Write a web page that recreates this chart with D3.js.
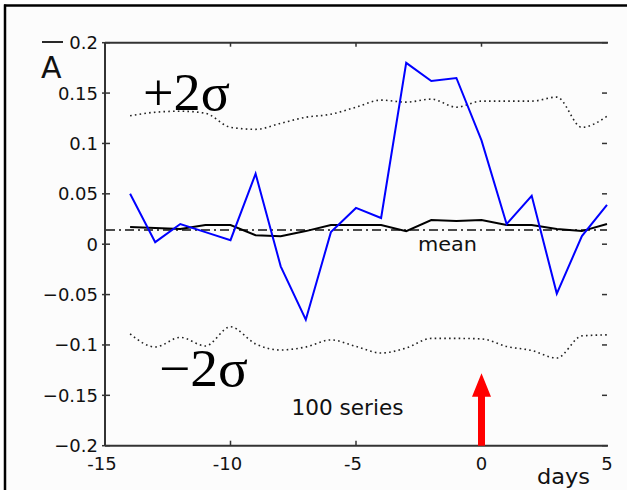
<!DOCTYPE html>
<html>
<head>
<meta charset="utf-8">
<script src="https://cdn.jsdelivr.net/npm/d3@7"></script>
<style>
  body { margin: 0; background: #fff; }
  svg { display: block; }
  .tick-label { font-family: 'DejaVu Sans', sans-serif; font-size: 18px; fill: #111; }
</style>
</head>
<body>
<div id="chart"></div>
<script>
var days = [-14, -13, -12, -11, -10, -9, -8, -7, -6, -5, -4, -3, -2, -1, 0, 1, 2, 3, 4, 5]
var seriesA = [0.05, 0.002, 0.02, 0.012, 0.004, 0.07, -0.022, -0.075, 0.012, 0.036,
  0.026, 0.18, 0.162, 0.165, 0.103, 0.02, 0.048, -0.049, 0.008, 0.039]
var meanSeries = [0.017, 0.016, 0.015, 0.019, 0.019, 0.009, 0.008, 0.013, 0.019, 0.019,
  0.019, 0.013, 0.024, 0.023, 0.024, 0.019, 0.019, 0.015, 0.013, 0.02]
var upperBand = [0.1275, 0.131, 0.132, 0.13, 0.116, 0.114, 0.12, 0.126, 0.129, 0.136,
  0.143, 0.141, 0.144, 0.136, 0.142, 0.142, 0.142, 0.146, 0.116, 0.127]
var lowerBand = [-0.089, -0.102, -0.0925, -0.101, -0.082, -0.099, -0.105, -0.102, -0.095, -0.1015,
  -0.108, -0.103, -0.0935, -0.0935, -0.094, -0.1015, -0.1055, -0.113, -0.091, -0.09]
var overallMean = 0.014
var xTicks = [-15, -10, -5, 0, 5]
var yTicks = [-0.2, -0.15, -0.1, -0.05, 0, 0.05, 0.1, 0.15, 0.2]
var arrowDay = 0
var arrowTip = -0.128

document.addEventListener('DOMContentLoaded', function () {
  var W = 627
  var H = 490
  var margin = { top: 42.7, right: 20, bottom: 44.3, left: 105 }
  var width = W - margin.left - margin.right
  var height = H - margin.top - margin.bottom

  var svg = d3.select('#chart').append('svg')
    .attr('width', W)
    .attr('height', H)

  // frame of the figure
  svg.append('rect').attr('x', 6).attr('y', 7).attr('width', W - 6).attr('height', H - 7)
    .attr('fill', '#fcfcfc')
  svg.append('line').attr('x1', 4).attr('x2', W).attr('y1', 5.5).attr('y2', 5.5)
    .attr('stroke', '#000').attr('stroke-width', 2.5)
  svg.append('line').attr('x1', 5).attr('x2', 5).attr('y1', 4.5).attr('y2', H)
    .attr('stroke', '#000').attr('stroke-width', 2.5)

  var g = svg.append('g')
    .attr('transform', 'translate(' + margin.left + ',' + margin.top + ')')

  var x = d3.scaleLinear().domain([-15, 5]).range([0, width])
  var y = d3.scaleLinear().domain([-0.2, 0.2]).range([height, 0])

  var axisColor = '#333'

  // axes lines: left, bottom, top
  g.append('line').attr('x1', 0).attr('x2', 0).attr('y1', 0).attr('y2', height)
    .attr('stroke', axisColor).attr('stroke-width', 2)
  g.append('line').attr('x1', 0).attr('x2', width + 1).attr('y1', height).attr('y2', height)
    .attr('stroke', axisColor).attr('stroke-width', 2)
  g.append('line').attr('x1', 0).attr('x2', width + 1).attr('y1', 0).attr('y2', 0)
    .attr('stroke', axisColor).attr('stroke-width', 2)

  // ticks
  yTicks.forEach(function (t) {
    g.append('line').attr('x1', -3).attr('x2', 5).attr('y1', y(t)).attr('y2', y(t))
      .attr('stroke', axisColor).attr('stroke-width', 1.5)
    g.append('line').attr('x1', width - 5).attr('x2', width).attr('y1', y(t)).attr('y2', y(t))
      .attr('stroke', axisColor).attr('stroke-width', 1.5)
    g.append('text').attr('class', 'tick-label')
      .attr('x', -7).attr('y', y(t)).attr('dy', '0.36em')
      .attr('text-anchor', 'end')
      .text(d3.format('')(t).replace('0.2', '0.2'))
  })
  xTicks.forEach(function (t) {
    if (t > -15 && t < 5) {
      g.append('line').attr('x1', x(t)).attr('x2', x(t)).attr('y1', 0).attr('y2', 4)
        .attr('stroke', axisColor).attr('stroke-width', 1.5)
      g.append('line').attr('x1', x(t)).attr('x2', x(t)).attr('y1', height).attr('y2', height - 5)
        .attr('stroke', axisColor).attr('stroke-width', 1.5)
    }
    g.append('text').attr('class', 'tick-label')
      .attr('x', x(t) - (t < 0 ? 3 : 0)).attr('y', height + 24)
      .attr('text-anchor', 'middle')
      .text(t)
  })

  // bands
  var bandLine = d3.line()
    .x(function (d, i) { return x(days[i]) })
    .y(function (d) { return y(d) })
    .curve(d3.curveMonotoneX)

  g.append('path').datum(upperBand).attr('d', bandLine)
    .attr('fill', 'none').attr('stroke', '#222').attr('stroke-width', 1.6)
    .attr('stroke-dasharray', '1.6,3.2')
  g.append('path').datum(lowerBand).attr('d', bandLine)
    .attr('fill', 'none').attr('stroke', '#222').attr('stroke-width', 1.6)
    .attr('stroke-dasharray', '1.6,3.2')

  // overall mean (dash-dot)
  g.append('line').attr('x1', 1).attr('x2', width).attr('y1', y(overallMean)).attr('y2', y(overallMean))
    .attr('stroke', '#111').attr('stroke-width', 1.5)
    .attr('stroke-dasharray', '9,4,2,4')

  var line = d3.line()
    .x(function (d, i) { return x(days[i]) })
    .y(function (d) { return y(d) })

  // mean of series
  g.append('path').datum(meanSeries).attr('d', line)
    .attr('fill', 'none').attr('stroke', '#000').attr('stroke-width', 2)

  // single series
  g.append('path').datum(seriesA).attr('d', line)
    .attr('fill', 'none').attr('stroke', '#0000ff').attr('stroke-width', 2)

  // red arrow
  var ax = x(arrowDay)
  var tipY = y(arrowTip)
  var headBase = tipY + 23.5
  var arrowPts = [
    [ax - 3.5, height], [ax - 3.5, headBase], [ax - 9.5, headBase], [ax, tipY],
    [ax + 9.5, headBase], [ax + 3.5, headBase], [ax + 3.5, height]
  ]
  g.append('path').attr('d', d3.line()(arrowPts) + 'Z').attr('fill', '#ff0000')

  // annotations
  svg.append('text').attr('x', 143).attr('y', 110)
    .attr('font-family', 'Liberation Serif, serif').attr('font-size', 52)
    .attr('textLength', 87).attr('lengthAdjust', 'spacingAndGlyphs')
    .text('+2σ')
  svg.append('text').attr('x', 159).attr('y', 386)
    .attr('font-family', 'Liberation Serif, serif').attr('font-size', 52)
    .attr('textLength', 89).attr('lengthAdjust', 'spacingAndGlyphs')
    .text('\u22122σ')
  svg.append('text').attr('x', 418).attr('y', 250.5)
    .attr('font-family', 'DejaVu Sans, sans-serif').attr('font-size', 20).attr('fill', '#111')
    .attr('textLength', 59).attr('lengthAdjust', 'spacingAndGlyphs')
    .text('mean')
  svg.append('text').attr('x', 291.5).attr('y', 414.5)
    .attr('font-family', 'DejaVu Sans, sans-serif').attr('font-size', 22).attr('fill', '#111')
    .attr('textLength', 112).attr('lengthAdjust', 'spacingAndGlyphs')
    .text('100 series')
  svg.append('text').attr('x', 537).attr('y', 483.5)
    .attr('font-family', 'DejaVu Sans, sans-serif').attr('font-size', 21).attr('fill', '#111')
    .attr('textLength', 53).attr('lengthAdjust', 'spacingAndGlyphs')
    .text('days')

  // A with overbar
  svg.append('text').attr('x', 41).attr('y', 77.5)
    .attr('font-family', 'DejaVu Sans, sans-serif').attr('font-size', 30).attr('fill', '#111')
    .text('A')
  svg.append('line').attr('x1', 42).attr('x2', 63).attr('y1', 42).attr('y2', 42)
    .attr('stroke', '#111').attr('stroke-width', 1.8)
})
</script>
</body>
</html>
